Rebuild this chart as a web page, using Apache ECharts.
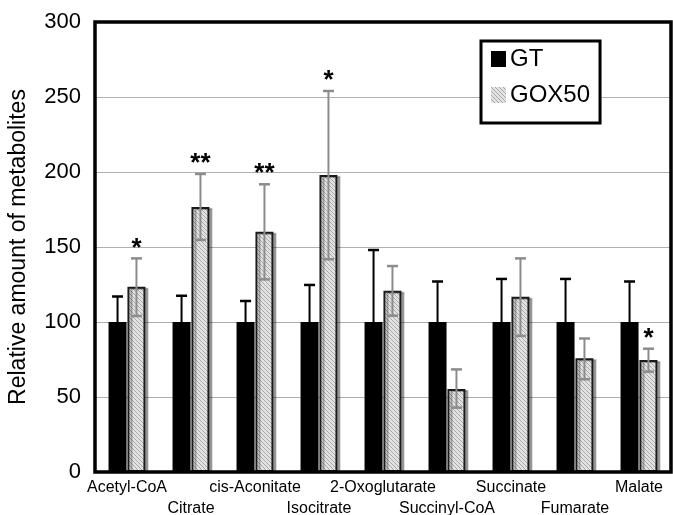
<!DOCTYPE html>
<html>
<head>
<meta charset="utf-8">
<script src="https://cdn.jsdelivr.net/npm/echarts@6/dist/echarts.min.js"></script>
<style>html,body{margin:0;padding:0;background:#fff;}#c{width:673px;height:515px;}</style>
</head>
<body>
<div id="c"></div>
<script>
const categories = ['Acetyl-CoA','Citrate','cis-Aconitate','Isocitrate','2-Oxoglutarate','Succinyl-CoA','Succinate','Fumarate','Malate'];
const gtMean = [100,100,100,100,100,100,100,100,100];
const gtErrHigh = [117,117.5,114,124.7,148,127,128.7,128.7,127];
const goxMean = [123.5,176.7,160.2,198,120.9,55.3,116.9,75.8,74.7];
const goxErrLow = [104,154.7,128.4,141.8,104.2,42.9,90.7,61.8,66.9];
const goxErrHigh = [142.4,198.7,191.8,254,137.3,68.4,142.4,89,82.2];
const significance = ['*','**','**','*','','','','','*'];
const yTicks = [0,50,100,150,200,250,300];

const FONT = '"Liberation Sans", Arial, Helvetica, sans-serif';
const BAR_W = 18;
const GAP = 0.9;

// hatched pattern for GOX50
const pc = document.createElement('canvas');
pc.width = 4; pc.height = 4;
const pctx = pc.getContext('2d');
pctx.fillStyle = '#e2e2e2';
pctx.fillRect(0,0,4,4);
pctx.fillStyle = '#a8a8a8';
for (let i = 0; i < 4; i++) { pctx.fillRect(i, i, 1, 1); }
const hatch = { image: pc, repeat: 'repeat' };

const chart = echarts.init(document.getElementById('c'), null, {renderer: 'canvas'});

function errItem(offsetSign, color, both, withStar) {
  return function (params, api) {
    const idx = api.value(0);
    const lo = api.value(1), hi = api.value(2);
    const pHi = api.coord([idx, hi]);
    const pLo = api.coord([idx, lo]);
    const x = pHi[0] + offsetSign * (BAR_W + GAP) / 2;
    const capHalf = 5.5;
    const children = [
      { type: 'line', shape: {x1: x, y1: pLo[1], x2: x, y2: pHi[1]}, style: {stroke: color, lineWidth: 2} },
      { type: 'line', shape: {x1: x - capHalf, y1: pHi[1], x2: x + capHalf, y2: pHi[1]}, style: {stroke: color, lineWidth: 2.5} }
    ];
    if (both) {
      children.push({ type: 'line', shape: {x1: x - capHalf, y1: pLo[1], x2: x + capHalf, y2: pLo[1]}, style: {stroke: color, lineWidth: 2.5} });
    }
    if (withStar) {
      const s = significance[params.dataIndex];
      if (s) {
        children.push({ type: 'text', style: { text: s, x: x, y: pHi[1] - 10, align: 'center', verticalAlign: 'middle', fill: '#000', font: 'bold 26px ' + FONT } });
      }
    }
    return { type: 'group', children: children };
  };
}

// plot frame drawn from the coordinate system's own rectangle
function frameItem(params) {
  const cs = params.coordSys;
  return { type: 'rect', shape: { x: cs.x, y: cs.y, width: cs.width, height: cs.height },
           style: { fill: null, stroke: '#000', lineWidth: 3.5 }, silent: true };
}

const option = {
  animation: false,
  backgroundColor: '#fff',
  grid: { left: 95, top: 22, right: 2, bottom: 43, outerBoundsMode: 'none', containLabel: false },
  legend: {
    data: [
      { name: 'GT', itemStyle: { color: '#000', borderWidth: 0 } },
      { name: 'GOX50', itemStyle: { color: hatch, borderWidth: 0, shadowBlur: 0, shadowOffsetX: 0, shadowColor: 'transparent' } }
    ],
    orient: 'vertical',
    left: 481, top: 41,
    padding: [6, 10, 16, 10],
    itemWidth: 15, itemHeight: 16, itemGap: 12,
    backgroundColor: '#fff', borderColor: '#000', borderWidth: 3,
    textStyle: { fontFamily: FONT, fontSize: 24, color: '#000', padding: [0,0,0,-1] },
    icon: 'rect',
    z: 10
  },
  xAxis: {
    type: 'category',
    data: categories,
    axisLine: { show: false },
    axisTick: { show: false },
    axisLabel: {
      interval: 0, margin: 5, color: '#000', fontFamily: FONT, fontSize: 16, lineHeight: 21,
      formatter: function (v, i) { return i % 2 === 1 ? '\n' + v : v; }
    }
  },
  yAxis: {
    type: 'value', min: yTicks[0], max: yTicks[yTicks.length-1], interval: 50,
    name: 'Relative amount of metabolites', nameLocation: 'middle', nameGap: 65, nameMoveOverlap: false,
    nameTextStyle: { fontFamily: FONT, fontSize: 23, color: '#000' },
    axisLine: { show: false }, axisTick: { show: false },
    axisLabel: { color: '#000', fontFamily: FONT, fontSize: 22, margin: 14 },
    splitLine: { lineStyle: { color: '#b0b0b0', width: 1 } }
  },
  series: [
    { name: 'GT', type: 'bar', data: gtMean, barWidth: BAR_W, barGap: '5%', itemStyle: { color: '#000' }, z: 2 },
    { name: 'GOX50', type: 'bar', data: goxMean, barWidth: BAR_W, barGap: '5%',
      itemStyle: { color: hatch, borderColor: '#1a1a1a', borderWidth: 2, shadowColor: 'rgba(0,0,0,0.3)', shadowBlur: 0, shadowOffsetX: 3, shadowOffsetY: 1 }, z: 2 },
    { type: 'custom', renderItem: errItem(-1, '#000', false, false), z: 5,
      data: gtMean.map((m, i) => [i, m, gtErrHigh[i]]) },
    { type: 'custom', renderItem: errItem(1, '#8c8c8c', true, true), z: 5,
      data: goxMean.map((m, i) => [i, goxErrLow[i], goxErrHigh[i]]) },
    { type: 'custom', renderItem: frameItem, z: 6, silent: true, data: [[0, 0]] }
  ]
};
chart.setOption(option);
</script>
</body>
</html>
